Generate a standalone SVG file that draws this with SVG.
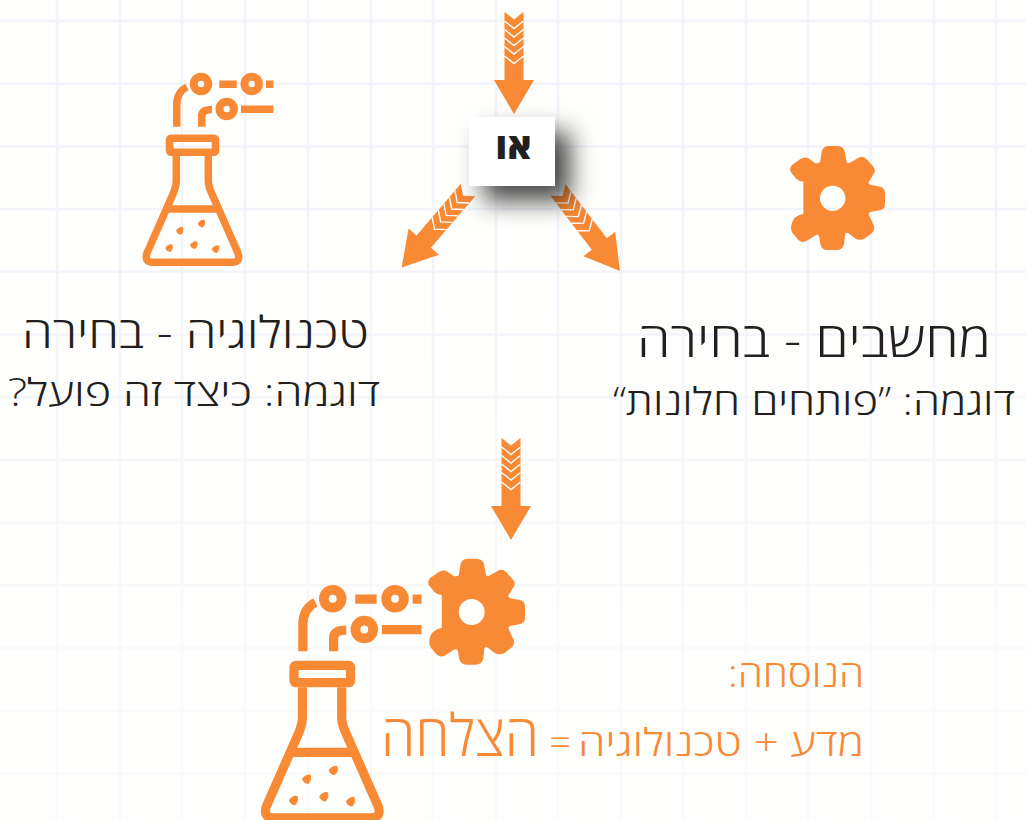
<svg xmlns="http://www.w3.org/2000/svg" xmlns:xlink="http://www.w3.org/1999/xlink" width="1026" height="820" viewBox="0 0 1026 820">
<style>
.o{fill:#f88a36}
.os{fill:none;stroke:#f88a36;stroke-width:7.500}
.t{font-family:"Open Sans","Noto Sans","DejaVu Sans",sans-serif;font-weight:300;direction:rtl;fill:#231f20}
.c{fill:none;stroke:#fff;stroke-width:1.400}
</style>
<defs>
<linearGradient id="fade" x1="0" y1="0" x2="0" y2="1"><stop offset="0.35" stop-color="#fefefc" stop-opacity="0"/><stop offset="0.8" stop-color="#fefefc" stop-opacity="0.6"/></linearGradient>
<filter id="sh" x="-80%" y="-80%" width="280%" height="280%"><feDropShadow dx="15" dy="15" stdDeviation="12" flood-color="#000" flood-opacity="0.72"/></filter>
<g id="arrow">
<path class="o" d="M-9.500,0L0,7.500L9.500,0V68H20L0,102L-20,68H-9.500V0Z"/>
<path class="c" d="M-9.500,9L0,16.500L9.500,9M-9.500,17.500L0,25L9.500,17.500M-9.500,26L0,33.500L9.500,26M-9.500,34.500L0,42L9.500,34.500M-9.500,44L0,51.500L9.500,44"/>
</g>
<path id="dot" class="o" d="M-4,0Q-1,-4.500 3,-3.500Q4.500,1 1,4Q-3,3.500 -4,0Z"/>
<g id="flask">
<rect class="os" x="169.500" y="138.300" width="46" height="14" rx="1.500"/>
<path class="os" d="M176.300,156V181Q176.300,186 173,194L147,253Q144,262.300 153,262.300H232Q241,262.300 238,253L212,194Q208.300,186 208.300,181V156"/>
<path class="os" d="M166,209H219M176.700,126.700V105Q176.700,92 187,87M201.700,126.700V116Q201.700,109.500 212,109.500M219.300,84.300H236.700M266,84.300H273.300M241,109.200H273.300"/>
<circle class="os" cx="201" cy="84" r="7.200" style="stroke-width:8"/>
<circle class="os" cx="251.700" cy="84" r="7.200" style="stroke-width:8"/>
<circle class="os" cx="226.700" cy="109" r="7.200" style="stroke-width:8"/>
<use xlink:href="#dot" href="#dot" x="180" y="230.700"/>
<use xlink:href="#dot" href="#dot" x="201.700" y="223.500"/>
<use xlink:href="#dot" href="#dot" x="169.300" y="248"/>
<use xlink:href="#dot" href="#dot" x="194" y="245"/>
<use xlink:href="#dot" href="#dot" x="215.700" y="249"/>
</g>
<g id="gear" transform="scale(0.3333) translate(-188,-205)">
<path class="o" fill-rule="evenodd" d="M150,97L155,65Q158,50 175,48H205Q222,50 225,68L230,97Q235,101 242,97L268,82Q280,77 290,88L310,110Q318,120 312,130L295,158Q298,165 305,165L330,170Q345,173 345,190V222Q345,237 332,240L300,246Q294,250 297,256L312,288Q315,300 305,310L285,325Q270,334 255,325L234,309Q226,306 225,314L222,342Q218,360 200,360H172Q155,360 151,342L147,318Q142,312 134,317L108,334Q95,340 85,330L68,310Q58,295 68,272Q78,255 100,252V155Q88,155 80,148L65,130Q55,118 65,106L90,88Q105,78 118,87L135,99Q143,102 150,97ZM226,205A38,38 0 1 0 150,205A38,38 0 1 0 226,205Z"/>
</g>
</defs>
<rect width="1026" height="820" fill="#fefefc"/>
<g id="grid"><path fill="none" stroke="#f3f3fb" stroke-width="2.500" d="M57,0V820M120,0V820M182,0V820M245,0V820M308,0V820M371,0V820M433,0V820M496,0V820M558,0V820M621,0V820M683,0V820M746,0V820M808,0V820M871,0V820M934,0V820M996,0V820M0,21H1026M0,83.700H1026M0,146.400H1026M0,209H1026M0,271.800H1026M0,334.500H1026M0,397.200H1026M0,459.900H1026M0,522.600H1026M0,585.300H1026M0,648H1026M0,710.700H1026M0,773.400H1026"/>
<rect width="1026" height="820" fill="url(#fade)"/></g>
<g id="connectors">
<use xlink:href="#arrow" href="#arrow" transform="translate(514,12)"/>
<use xlink:href="#arrow" href="#arrow" transform="translate(468,190) rotate(40.600)"/>
<use xlink:href="#arrow" href="#arrow" transform="translate(558,190) rotate(-37.400)"/>
<use xlink:href="#arrow" href="#arrow" transform="translate(511,438)"/>
</g>
<g id="or"><rect x="469" y="117" width="86" height="69" fill="#fff" filter="url(#sh)"/>
<text x="513.500" y="159" text-anchor="middle" textLength="36" lengthAdjust="spacingAndGlyphs" style="font-family:'Open Sans','DejaVu Sans',sans-serif;font-weight:800;font-size:36px;direction:rtl;fill:#231f20">או</text></g>
<g id="tech"><use xlink:href="#flask" href="#flask"/>
<text class="t" x="369" y="348" font-size="44" textLength="347" lengthAdjust="spacingAndGlyphs">טכנולוגיה - בחירה</text>
<text class="t" x="380" y="406" font-size="38" textLength="372" lengthAdjust="spacingAndGlyphs">דוגמה: כיצד זה פועל?</text></g>
<g id="science"><use xlink:href="#gear" href="#gear" transform="translate(832.700,198.300)"/>
<text class="t" x="991" y="357" font-size="48" textLength="354" lengthAdjust="spacingAndGlyphs">מחשבים - בחירה</text>
<text class="t" x="1015" y="415" font-size="38" textLength="402" lengthAdjust="spacingAndGlyphs">דוגמה: ”פותחים חלונות“</text></g>
<g id="combined"><use xlink:href="#flask" href="#flask" transform="translate(85.700,495.500) scale(1.229)"/>
<use xlink:href="#gear" href="#gear" transform="translate(471.700,612) scale(1.020)"/></g>
<g id="formula">
<text class="t" x="864" y="687" font-size="38" textLength="136" lengthAdjust="spacingAndGlyphs" style="fill:#f88a36">הנוסחה:</text>
<text class="t" x="864" y="756" font-size="38" textLength="286" lengthAdjust="spacingAndGlyphs" style="fill:#f88a36">מדע + טכנולוגיה</text>
<text class="t" x="571" y="756" font-size="38" style="fill:#f88a36">=</text>
<text class="t" x="539" y="756" font-size="58" textLength="158" lengthAdjust="spacingAndGlyphs" style="fill:#f88a36">הצלחה</text>
</g>
</svg>
